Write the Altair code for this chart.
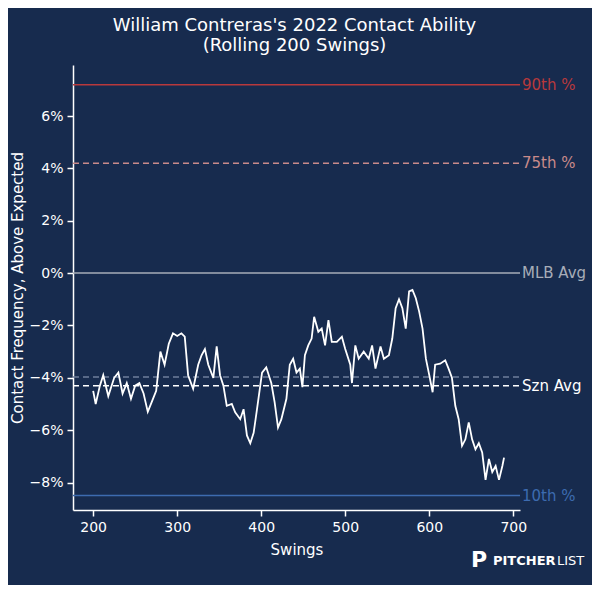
import altair as alt
import pandas as pd

swings = [200,203,208,212,218,225,230,235,240,245,250,255,260,265,270,275,280,285,290,295,300,
305,309,313,319,325,329,333,337,343,347,351,355,359,365,369,375,379,383,387,391,395,401,406,412,416,420,424,430,434,438,442,446,449,452,456,460,463,468,472,476,480,484,490,496,500,506,508,512,516,522,528,532,536,542,546,552,556,560,564,568,572,576,580,584,588,592,596,600,604,607,613,619,623,627,631,635,639,643,647,651,655,659,663,667,671,675,679,683,687,689]
values = [-4.5,-5.0,-4.3,-3.9,-4.7,-4.0,-3.8,-4.6,-4.2,-4.8,-4.3,-4.2,-4.6,-5.3,-4.9,-4.5,-3.0,-3.5,-2.7,-2.3,-2.4,
-2.3,-2.43,-3.9,-4.42,-3.5,-3.14,-2.9,-3.5,-4.0,-2.8,-3.9,-4.3,-5.07,-5.0,-5.32,-5.58,-5.2,-6.2,-6.5,-6.1,-5.2,-3.8,-3.6,-4.2,-4.94,-5.9,-5.58,-4.8,-3.5,-3.27,-3.8,-3.65,-4.36,-3.14,-2.76,-2.5,-1.67,-2.24,-2.12,-2.76,-1.8,-2.63,-2.63,-2.43,-2.9,-3.5,-4.2,-2.76,-3.27,-3.0,-3.27,-2.76,-3.65,-2.8,-3.27,-3.14,-2.5,-1.34,-1.0,-1.34,-2.12,-0.7,-0.64,-0.96,-1.47,-2.12,-3.27,-3.9,-4.55,-3.5,-3.46,-3.33,-3.65,-4.0,-5.07,-5.58,-6.6,-6.35,-5.7,-6.35,-6.73,-6.5,-6.85,-7.9,-7.1,-7.6,-7.37,-7.9,-7.37,-7.05]

ref_names = ["90th %", "75th %", "MLB Avg", "", "Szn Avg", "10th %"]
ref_values = [7.2, 4.2, 0.0, -3.97, -4.3, -8.5]
ref_colors = ["#b8393c", "#c98a8a", "#a7adb8", "#6f7f9c", "#ffffff", "#3d6bb0"]
ref_dash = [[1, 0], [6, 4], [1, 0], [6, 4], [6, 4], [1, 0]]

BG = "#172b4e"
df = pd.DataFrame({"s": swings, "v": [v / 100 for v in values]})
refs = pd.DataFrame({"name": ref_names, "v": [v / 100 for v in ref_values],
                     "c": ref_colors, "i": list(range(6))})

xs = alt.Scale(domain=[176, 708], nice=False, zero=False)
ys = alt.Scale(domain=[-0.0905, 0.0795], nice=False, zero=False)

layers = []
for i in range(6):
    r = refs.iloc[[i]]
    layers.append(alt.Chart(r).mark_rule(strokeWidth=1.5, strokeDash=ref_dash[i], color=ref_colors[i]).encode(
        x=alt.value(0), x2=alt.value(447), y=alt.Y("v:Q", scale=ys)))
    if ref_names[i]:
        layers.append(alt.Chart(r).mark_text(align="left", baseline="middle", dx=2, fontSize=15,
                                             font="DejaVu Sans", color=ref_colors[i]).encode(
            x=alt.value(447), y=alt.Y("v:Q", scale=ys), text="name:N"))

line = alt.Chart(df).mark_line(color="white", strokeWidth=1.8).encode(
    x=alt.X("s:Q", scale=xs, title="Swings",
            axis=alt.Axis(values=[200, 300, 400, 500, 600, 700], grid=False, titlePadding=8)),
    y=alt.Y("v:Q", scale=ys, title="Contact Frequency, Above Expected",
            axis=alt.Axis(values=[-0.08, -0.06, -0.04, -0.02, 0, 0.02, 0.04, 0.06], format=".0%", grid=False)))

logo = alt.Chart(pd.DataFrame({"t": ["PITCHER"]})).mark_text(
    align="left", fontSize=13, fontWeight="bold", color="white", font="DejaVu Sans").encode(
    x=alt.value(420), y=alt.value(496), text="t:N")
logo2 = alt.Chart(pd.DataFrame({"u": ["LIST"]})).mark_text(
    align="left", fontSize=13, color="white", font="DejaVu Sans").encode(
    x=alt.value(484), y=alt.value(496), text="u:N")
logo3 = alt.Chart(pd.DataFrame({"u": ["P"]})).mark_text(
    align="left", fontSize=22, fontWeight="bold", color="white", font="DejaVu Sans").encode(
    x=alt.value(398), y=alt.value(495), text="u:N")

chart = alt.layer(*layers, line, logo, logo2, logo3).properties(
    width=447, height=445, background=BG,
    padding={"left": 65, "top": 57, "right": 72, "bottom": 75},
    autosize=alt.AutoSizeParams(type="none"),
    title=alt.TitleParams(["William Contreras's 2022 Contact Ability", "(Rolling 200 Swings)"],
                          color="white", fontSize=18, font="DejaVu Sans", fontWeight="normal",
                          anchor="middle", offset=10, dx=-2)
).configure_view(stroke=None).configure_axis(
    domainColor="white", tickColor="white", labelColor="white", titleColor="white",
    labelFontSize=14, titleFontSize=15, labelFont="DejaVu Sans", titleFont="DejaVu Sans",
    titleFontWeight="normal", domainWidth=1.5, tickWidth=1.5, tickSize=6, labelPadding=4)

chart.save("out.html", embed_options={"renderer": "svg", "actions": False})
